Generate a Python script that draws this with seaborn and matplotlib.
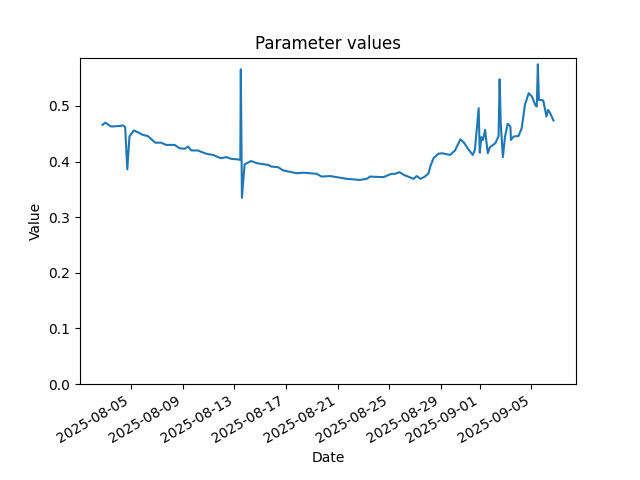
import pandas as pd
import matplotlib
matplotlib.use("Agg")
import matplotlib.pyplot as plt
import seaborn as sns

# readings
dates = [
    "2025-08-02 19:00", "2025-08-03 00:00", "2025-08-03 11:00", "2025-08-04 02:00",
    "2025-08-04 09:00", "2025-08-04 13:00", "2025-08-04 17:00", "2025-08-04 21:00",
    "2025-08-05 05:00", "2025-08-05 12:00", "2025-08-05 22:00", "2025-08-06 07:00",
    "2025-08-06 21:00", "2025-08-07 08:00", "2025-08-07 17:00", "2025-08-08 09:00",
    "2025-08-08 18:00", "2025-08-09 04:00", "2025-08-09 10:00", "2025-08-09 16:00",
    "2025-08-10 04:00", "2025-08-10 20:00", "2025-08-11 08:00", "2025-08-11 23:00",
    "2025-08-12 09:00", "2025-08-12 18:00", "2025-08-13 06:00", "2025-08-13 11:00",
    "2025-08-13 12:00", "2025-08-13 14:00", "2025-08-13 19:00", "2025-08-14 07:00",
    "2025-08-14 18:00", "2025-08-15 15:00", "2025-08-15 21:00", "2025-08-16 09:00",
    "2025-08-16 19:00", "2025-08-17 10:00", "2025-08-17 20:00", "2025-08-18 08:00",
    "2025-08-19 09:00", "2025-08-19 18:00", "2025-08-20 10:00", "2025-08-20 22:00",
    "2025-08-21 17:00", "2025-08-22 17:00", "2025-08-23 06:00", "2025-08-23 12:00",
    "2025-08-24 13:00", "2025-08-25 04:00", "2025-08-25 11:00", "2025-08-25 19:00",
    "2025-08-26 03:00", "2025-08-26 11:00", "2025-08-26 21:00", "2025-08-27 03:00",
    "2025-08-27 10:00", "2025-08-27 18:00", "2025-08-28 01:00", "2025-08-28 04:00",
    "2025-08-28 10:00", "2025-08-28 19:00", "2025-08-29 02:00", "2025-08-29 17:00",
    "2025-08-30 02:00", "2025-08-30 12:00", "2025-08-30 18:00", "2025-08-31 03:00",
    "2025-08-31 11:00", "2025-08-31 15:00", "2025-08-31 22:00", "2025-09-01 00:00",
    "2025-09-01 03:00", "2025-09-01 06:00", "2025-09-01 10:00", "2025-09-01 12:00",
    "2025-09-01 15:00", "2025-09-01 19:00", "2025-09-02 05:00", "2025-09-02 11:00",
    "2025-09-02 13:00", "2025-09-02 15:00", "2025-09-02 19:00", "2025-09-02 23:00",
    "2025-09-03 04:00", "2025-09-03 09:00", "2025-09-03 10:00", "2025-09-03 15:00",
    "2025-09-04 00:00", "2025-09-04 06:00", "2025-09-04 12:00", "2025-09-04 19:00",
    "2025-09-05 01:00", "2025-09-05 07:00", "2025-09-05 10:00", "2025-09-05 12:00",
    "2025-09-05 14:00", "2025-09-05 22:00", "2025-09-06 04:00", "2025-09-06 07:00",
    "2025-09-06 11:00", "2025-09-06 17:00",
]

values = [
    0.466, 0.470, 0.463, 0.464,
    0.465, 0.462, 0.386, 0.445,
    0.456, 0.453, 0.448, 0.446,
    0.434, 0.434, 0.430, 0.430,
    0.424, 0.423, 0.427, 0.420,
    0.420, 0.414, 0.412, 0.406,
    0.408, 0.405, 0.404, 0.403,
    0.566, 0.335, 0.395, 0.401,
    0.397, 0.394, 0.391, 0.390,
    0.384, 0.381, 0.379, 0.380,
    0.378, 0.373, 0.374, 0.372,
    0.369, 0.367, 0.369, 0.373,
    0.372, 0.378, 0.378, 0.381,
    0.376, 0.373, 0.369, 0.374,
    0.369, 0.373, 0.379, 0.391,
    0.406, 0.414, 0.415, 0.412,
    0.420, 0.440, 0.435, 0.422,
    0.412, 0.421, 0.496, 0.416,
    0.444, 0.439, 0.457, 0.439,
    0.415, 0.426, 0.433, 0.446,
    0.548, 0.469, 0.408, 0.445,
    0.468, 0.463, 0.439, 0.445,
    0.446, 0.460, 0.502, 0.523,
    0.517, 0.502, 0.499, 0.575,
    0.511, 0.510, 0.481, 0.493,
    0.487, 0.474,
]

df = pd.DataFrame({"Date": pd.to_datetime(dates), "Value": values})

fig, ax = plt.subplots(figsize=(6.4, 4.8), dpi=100)
sns.lineplot(data=df, x="Date", y="Value", ax=ax)

ax.set_ylim(bottom=0)
ax.set_title("Parameter values")
ax.set_xlabel("Date")
ax.set_ylabel("Value")
fig.autofmt_xdate()

plt.savefig("out.png")
